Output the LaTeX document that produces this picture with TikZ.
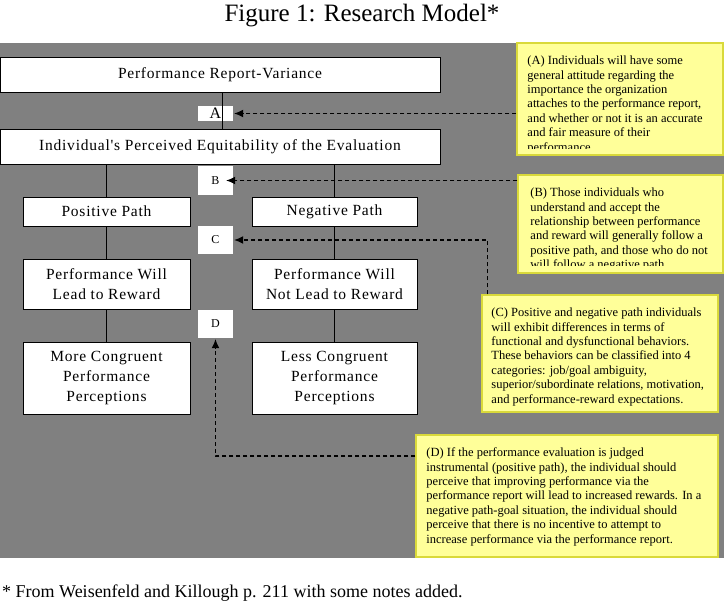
\documentclass[tikz,border=0pt]{standalone}
\usepackage{fontspec}
\setmainfont{Liberation Serif}
\newfontfamily\boxfont{Liberation Serif}[LetterSpace=5]
\usetikzlibrary{arrows.meta}
\definecolor{modelGray}{HTML}{808080}
\definecolor{noteYellow}{HTML}{FFFF99}
\definecolor{noteEdge}{HTML}{D9D93A}

\tikzset{
  stage/.style={draw=black,line width=1pt,fill=white,inner sep=0pt,align=center,
    font=\boxfont\fontsize{15.5}{20}\selectfont},
  tag/.style={fill=white,inner sep=0pt,minimum width=35pt,font=\fontsize{12}{14}\selectfont},
  note/.style={draw=noteEdge,line width=1.5pt,fill=noteYellow,inner sep=0pt},
  notetext/.style={anchor=north west,inner sep=0pt,align=left,
    font=\fontsize{12.5}{14.4}\selectfont},
  link/.style={line width=1.5pt},
  pointer/.style={line width=1.2pt,dash pattern=on 4pt off 3pt,
    -{Latex[length=9pt,width=8pt]},shorten >=1pt}
}

\begin{document}
\begin{tikzpicture}[x=1pt,y=-1pt]
  \useasboundingbox (0,0) rectangle (724,605);
  \fill[white] (0,0) rectangle (724,605);
  \fill[modelGray] (0,43) rectangle (724,558);
  \node[font=\fontsize{25}{30}\selectfont] (title) at (362,16) {Figure 1: Research Model*};
  \node[anchor=base west,inner sep=0pt,font=\fontsize{18}{22}\selectfont] (source) at (2,597)
    {* From Weisenfeld and Killough p. 211 with some notes added.};

  \node[stage,minimum width=440pt,minimum height=35pt] (report) at (220,74.5) {Performance Report-Variance};
  \node[stage,minimum width=440pt,minimum height=35pt] (equit) at (220,146.5)
    {Individual's Perceived Equitability of the Evaluation};
  \node[stage,minimum width=167pt,minimum height=29pt] (pos) at (106.5,211.5) {Positive Path};
  \node[stage,minimum width=165pt,minimum height=29pt] (neg) at (334.5,211.5) {Negative Path};
  \node[stage,minimum width=167pt,minimum height=50pt] (lead) at (106.5,284) {Performance Will\\Lead to Reward};
  \node[stage,minimum width=165pt,minimum height=50pt] (nolead) at (334.5,284) {Performance Will\\Not Lead to Reward};
  \node[stage,minimum width=167pt,minimum height=72pt] (more) at (106.5,378)
    {More Congruent\\Performance\\Perceptions};
  \node[stage,minimum width=165pt,minimum height=72pt] (less) at (334.5,378)
    {Less Congruent\\Performance\\Perceptions};

  \node[tag,minimum height=15pt,font=\fontsize{16}{18}\selectfont] (tagA) at (215.5,113.5) {A\hspace{9pt}};
  \node[tag,minimum height=29pt] (tagB) at (215.5,180.5) {B};
  \node[tag,minimum height=28pt] (tagC) at (215.5,240) {C};
  \node[tag,minimum height=28pt] (tagD) at (215.5,324) {D};

  \draw[line width=1pt] ([xshift=2pt]report.south) -- ([xshift=2pt]equit.north);
  \draw[link] (pos.north) -- (pos.north |- equit.south);
  \draw[link] (neg.north) -- (neg.north |- equit.south);
  \draw[link] (pos) -- (lead) -- (more);
  \draw[link] (neg) -- (nolead) -- (less);

  \node[note,minimum width=206pt,minimum height=112pt] (noteA) at (620,99) {};
  \begin{scope}
    \clip (noteA.north west) rectangle ([yshift=7pt]noteA.south east);
    \node[notetext] (textA) at ([shift={(11,13.5)}]noteA.north west)
      {(A) Individuals will have some\\general attitude regarding the\\importance the organization\\
       attaches to the performance report,\\and whether or not it is an accurate\\
       and fair measure of their\\performance.};
  \end{scope}
  \node[note,minimum width=205pt,minimum height=98pt] (noteB) at (620.5,224) {};
  \begin{scope}
    \clip (noteB.north west) rectangle ([yshift=8pt]noteB.south east);
    \node[notetext] (textB) at ([shift={(13,13.5)}]noteB.north west)
      {(B) Those individuals who\\understand and accept the\\relationship between performance\\
       and reward will generally follow a\\positive path, and those who do not\\
       will follow a negative path.};
  \end{scope}
  \node[note,minimum width=236pt,minimum height=117pt] (noteC) at (600,353.5) {};
  \node[notetext] (textC) at ([shift={(10,13.5)}]noteC.north west)
    {(C) Positive and negative path individuals\\will exhibit differences in terms of\\
     functional and dysfunctional behaviors.\\These behaviors can be classified into 4\\
     categories: job/goal ambiguity,\\superior/subordinate relations, motivation,\\
     and performance-reward expectations.};
  \node[note,minimum width=302pt,minimum height=122pt] (noteD) at (567,496) {};
  \node[notetext] (textD) at ([shift={(11,13.5)}]noteD.north west)
    {(D) If the performance evaluation is judged\\instrumental (positive path), the individual should\\
     perceive that improving performance via the\\performance report will lead to increased rewards. In a\\
     negative path-goal situation, the individual should\\perceive that there is no incentive to attempt to\\
     increase performance via the performance report.};

  \draw[pointer] (tagA.east -| noteA.west) -- (tagA.east);
  \draw[pointer] (tagB.east -| noteB.west) -- ([xshift=-8pt]tagB.east);
  \draw[pointer] ([xshift=6pt]noteC.north west) |- (tagC.east);
  \draw[pointer] ([yshift=40pt]noteD.west) -| (tagD.south);
\end{tikzpicture}
\end{document}
